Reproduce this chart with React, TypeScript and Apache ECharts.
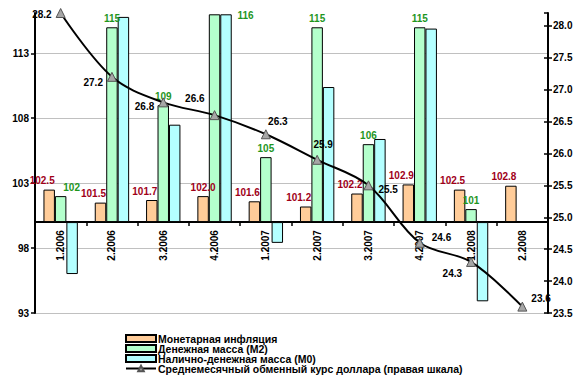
import React, { useEffect, useRef } from "react";
import * as echarts from "echarts";

const categories = ["1.2006", "2.2006", "3.2006", "4.2006", "1.2007", "2.2007", "3.2007", "4.2007", "1.2008", "2.2008"];
const inflation = [102.5, 101.5, 101.7, 102.0, 101.6, 101.2, 102.2, 102.9, 102.5, 102.8];
const m2 = [102, 115, 109, 116, 105, 115, 106, 115, 101, null];
const m0 = [96.0, 115.8, 107.5, 116.0, 98.4, 110.4, 106.4, 114.9, 93.9, null];
const usdRate = [28.2, 27.2, 26.8, 26.6, 26.3, 25.9, 25.5, 24.6, 24.3, 23.6];
const seriesNames = [
  "Монетарная инфляция",
  "Денежная масса (M2)",
  "Налично-денежная масса (M0)",
  "Среднемесячный обменный курс доллара (правая шкала)",
];
const BASE = 100;
const LEFT_MIN = 93;
const LEFT_MAX = 116.1;
const LEFT_STEP = 5;
const RIGHT_MIN = 23.5;
const RIGHT_MAX = 28.2;
const RIGHT_STEP = 0.5;

const FONT = "'Liberation Sans', Arial, sans-serif";
const GRID = { left: 35, right: 34, top: 13, bottom: 63 };
const GRID_H = 376 - GRID.top - GRID.bottom;

// label placement tweaks (layout, not data)
const m2LabelNudge: Record<number, any> = {
  0: { offset: [11, 0] },
  3: { offset: [31, 10] },
};
const rateLabelPlace: any[] = [
  { position: "left", offset: [0, 1] },
  { position: "left", offset: [0, 6] },
  { position: "left", offset: [0, 4] },
  { position: "left", offset: [-1, -17] },
  { position: "top", offset: [12, 1] },
  { position: "top", offset: [6, -1] },
  { position: "right", offset: [1, 4] },
  { position: "right", offset: [3, -5] },
  { position: "left", offset: [0, 12] },
  { position: "right", offset: [0, -8] },
];

export default function App() {
  const ref = useRef<HTMLDivElement>(null);
  useEffect(() => {
    if (!ref.current) return;
    const chart = echarts.init(ref.current, null, { renderer: "svg" });
    const border = { borderColor: "#000", borderWidth: 1 };
    const baseOffset = -((BASE - LEFT_MIN) / (LEFT_MAX - LEFT_MIN)) * GRID_H;
    const option: any = {
      animation: false,
      backgroundColor: "#fff",
      textStyle: { fontFamily: FONT },
      grid: { ...GRID, containLabel: false },
      legend: {
        orient: "vertical",
        left: 125,
        top: 333,
        width: 420,
        height: 80,
        padding: 0,
        itemGap: -1,
        itemWidth: 30,
        itemHeight: 7,
        textStyle: { fontFamily: FONT, fontSize: 10.5, fontWeight: "bold", color: "#000", lineHeight: 8.5, padding: [0, 0, 0, -3] },
        data: [
          { name: seriesNames[0], icon: "rect" },
          { name: seriesNames[1], icon: "rect" },
          { name: seriesNames[2], icon: "rect" },
          { name: seriesNames[3] },
        ],
      },
      xAxis: {
        type: "category",
        data: categories,
        boundaryGap: true,
        position: "bottom",
        offset: baseOffset,
        axisLine: { onZero: false, lineStyle: { color: "#000", width: 2 } },
        axisTick: { show: true, length: 4, lineStyle: { color: "#000", width: 1.5 } },
        axisLabel: { rotate: 90, fontSize: 10, fontWeight: "bold", color: "#000", margin: 8, fontFamily: FONT },
        splitLine: { show: false },
      },
      yAxis: [
        {
          type: "value",
          position: "left",
          min: 0,
          max: LEFT_MAX - LEFT_MIN,
          interval: LEFT_STEP,
          axisLine: { show: true, onZero: false, lineStyle: { color: "#000", width: 2 } },
          axisTick: { show: true, length: 4, lineStyle: { color: "#000", width: 1.5 } },
          axisLabel: {
            fontSize: 10,
            fontWeight: "bold",
            color: "#000",
            margin: 6,
            fontFamily: FONT,
            showMaxLabel: false,
            formatter: (v: number) => String(Math.round(v + LEFT_MIN)),
          },
          splitLine: { show: true, showMaxLine: false, lineStyle: { color: "#c0c0c0", width: 1 } },
        },
        {
          type: "value",
          position: "right",
          min: RIGHT_MIN,
          max: RIGHT_MAX,
          interval: RIGHT_STEP,
          axisLine: { show: true, onZero: false, lineStyle: { color: "#000", width: 2 } },
          axisTick: { show: true, length: 4, lineStyle: { color: "#000", width: 1.5 } },
          axisLabel: {
            fontSize: 10,
            fontWeight: "bold",
            color: "#000",
            margin: 5,
            fontFamily: FONT,
            showMaxLabel: false,
            formatter: (v: number) => v.toFixed(1),
          },
          splitLine: { show: false },
        },
        {
          type: "value",
          show: false,
          position: "left",
          min: LEFT_MIN - BASE,
          max: LEFT_MAX - BASE,
        },
        {
          type: "value",
          position: "right",
          min: RIGHT_MIN,
          max: RIGHT_MAX,
          interval: RIGHT_STEP,
          axisLine: { show: false, onZero: false },
          axisTick: { show: true, inside: true, length: 4, lineStyle: { color: "#000", width: 1.5 } },
          axisLabel: { show: false, showMaxLabel: false },
          splitLine: { show: false },
        },
      ],
      series: [
        {
          name: seriesNames[0],
          type: "bar",
          yAxisIndex: 2,
          barGap: "0%",
          barCategoryGap: "33%",
          data: inflation.map((v, i) => ({
            value: v - BASE,
            label: i === 3 ? { offset: [0, 0] } : undefined,
          })),
          itemStyle: { color: "#ffcc99", ...border },
          label: {
            show: true,
            position: "top",
            distance: 4,
            offset: [-7, 0],
            fontSize: 10,
            fontWeight: "bold",
            color: "#a00018",
            fontFamily: FONT,
            formatter: (p: any) => (p.value + BASE).toFixed(1),
          },
        },
        {
          name: seriesNames[1],
          type: "bar",
          yAxisIndex: 2,
          barGap: "0%",
          barCategoryGap: "33%",
          data: m2.map((v, i) =>
            v == null ? null : { value: v - BASE, label: m2LabelNudge[i] }
          ),
          itemStyle: { color: "#b4ffcc", ...border },
          label: {
            show: true,
            position: "top",
            distance: 4,
            fontSize: 10,
            fontWeight: "bold",
            color: "#1e961e",
            fontFamily: FONT,
            formatter: (p: any) => (p.value + BASE).toFixed(0),
          },
        },
        {
          name: seriesNames[2],
          type: "bar",
          yAxisIndex: 2,
          barGap: "0%",
          barCategoryGap: "33%",
          data: m0.map((v) => (v == null ? null : v - BASE)),
          itemStyle: { color: "#b4ffff", ...border },
        },
        {
          name: seriesNames[3],
          type: "line",
          yAxisIndex: 1,
          smooth: 0.35,
          symbol: "triangle",
          symbolSize: 9,
          z: 5,
          lineStyle: { color: "#000", width: 2 },
          itemStyle: { color: "#a6a6a6", borderColor: "#555", borderWidth: 1 },
          data: usdRate.map((v, i) => ({ value: v, label: rateLabelPlace[i] })),
          label: {
            show: true,
            fontSize: 10,
            fontWeight: "bold",
            color: "#000",
            distance: 4,
            fontFamily: FONT,
            formatter: (p: any) => Number(p.value).toFixed(1),
          },
        },
      ],
    };
    chart.setOption(option);
    return () => chart.dispose();
  }, []);
  return (
    <div
      ref={ref}
      style={{ position: "fixed", left: 0, top: 0, width: 582, height: 376, background: "#fff" }}
    />
  );
}
